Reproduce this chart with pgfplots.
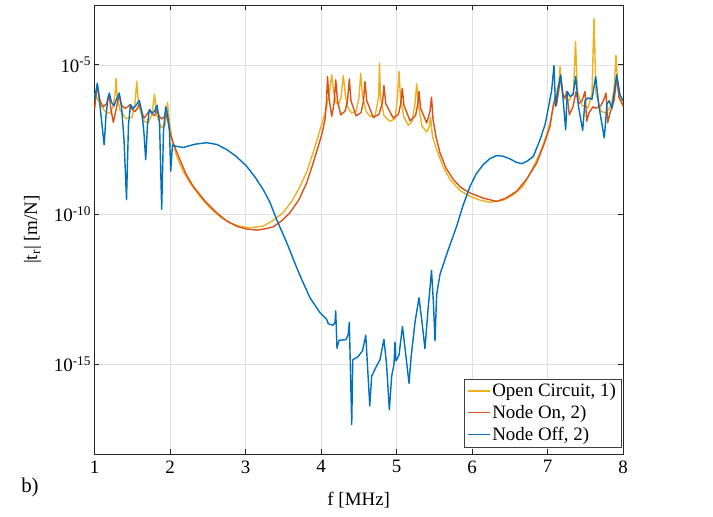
\documentclass[border=0pt]{standalone}
\usepackage{fontspec}
\setmainfont{Liberation Serif}
\usepackage{pgfplots}
\pgfplotsset{compat=1.18}
\definecolor{mYellow}{rgb}{0.929,0.694,0.125}
\definecolor{mOrange}{rgb}{0.850,0.325,0.098}
\definecolor{mBlue}{rgb}{0.000,0.447,0.741}
\definecolor{axgray}{rgb}{0.15,0.15,0.15}
\begin{document}
\begin{tikzpicture}
\begin{axis}[
  scale only axis, width=528.5bp, height=449bp,
  xmin=1, xmax=8, ymode=log, ymin=1e-18, ymax=1e-3,
  xtick={1,2,3,4,5,6,7,8},
  ytick={1e-15,1e-10,1e-5},
  yticklabels={10\textsuperscript{-15},10\textsuperscript{-10},10\textsuperscript{-5}},
  tick align=inside, major tick length=5bp,
  grid=major, major grid style={draw=black!12, line width=0.6bp},
  axis line style={draw=axgray, line width=0.8bp},
  every tick/.style={axgray, line width=0.8bp},
  tick label style={font=\fontsize{19}{22}\selectfont, text=black},
  xticklabel style={yshift=-3bp},
  /pgf/number format/assume math mode=true,
  xlabel={f [MHz]}, ylabel={|t\textsubscript{r}| [m/N]},
  label style={font=\fontsize{19}{22}\selectfont},
  xlabel style={at={(axis description cs:0.5,0)}, anchor=center, yshift=-46bp},
  ylabel style={at={(axis description cs:-0.117,0.5)}, anchor=center},
  legend style={at={(1,0)}, anchor=south east, xshift=-2bp, yshift=7bp,
    draw=black!75, fill=white, row sep=3bp,
    font=\fontsize{19}{22}\selectfont, inner xsep=3bp, inner ysep=3bp},
  legend cell align=left,
  legend image code/.code={%
    \draw[mark repeat=2,mark phase=2,#1]
      plot coordinates {(0bp,0bp) (11bp,0bp) (22bp,0bp)};},
  every axis plot/.append style={line width=1.4bp, line join=round},
]
% Open circuit
\addplot[mYellow] coordinates {
(1.000,1.12e-6) (1.073,5.01e-7) (1.139,2.82e-7) (1.205,2.40e-7) (1.245,3.98e-7)
(1.272,1.0e-6) (1.285,3.55e-6) (1.298,1.0e-6) (1.338,3.16e-7) (1.417,1.58e-7)
(1.497,1.78e-7) (1.536,5.01e-7) (1.559,2.82e-6) (1.583,5.01e-7) (1.642,1.41e-7)
(1.709,1.12e-7) (1.762,2.24e-7) (1.795,1.05e-6) (1.821,2.24e-7) (1.881,7.94e-8)
(1.934,1.0e-7) (1.967,5.62e-7) (1.993,1.12e-7) (2.026,3.55e-8) (2.089,8.71e-9)
(2.172,2.82e-9) (2.265,1.15e-9) (2.397,3.98e-10) (2.530,1.66e-10) (2.662,8.51e-11)
(2.795,5.25e-11) (2.927,3.98e-11) (3.060,3.63e-11) (3.232,4.07e-11) (3.364,6.31e-11)
(3.497,1.15e-10) (3.616,2.82e-10) (3.722,8.71e-10) (3.815,2.82e-9) (3.894,1.15e-8)
(3.960,3.98e-8) (4.013,1.12e-7) (4.066,3.16e-7) (4.106,1.0e-6) (4.142,4.68e-6)
(4.166,1.26e-6) (4.199,5.62e-7) (4.229,4.68e-7) (4.265,7.94e-7) (4.295,4.37e-6)
(4.325,8.91e-7) (4.358,3.55e-7) (4.407,2.45e-7) (4.464,2.82e-7) (4.503,7.94e-7)
(4.526,5.25e-6) (4.550,8.91e-7) (4.596,2.82e-7) (4.649,1.91e-7) (4.715,2.0e-7)
(4.762,7.94e-7) (4.775,1.15e-5) (4.788,7.94e-7) (4.834,2.0e-7) (4.914,1.29e-7)
(4.980,1.58e-7) (5.013,7.94e-7) (5.033,6.17e-6) (5.053,7.94e-7) (5.099,1.78e-7)
(5.156,9.55e-8) (5.205,1.26e-7) (5.245,5.01e-7) (5.268,2.34e-6) (5.291,4.47e-7)
(5.338,8.91e-8) (5.400,5.75e-8) (5.430,7.94e-8) (5.450,1.78e-7) (5.477,3.98e-8)
(5.532,1.48e-8) (5.616,3.98e-9) (5.709,1.48e-9) (5.841,6.31e-10) (5.974,4.07e-10)
(6.106,3.02e-10) (6.238,2.57e-10) (6.411,3.02e-10) (6.543,4.47e-10) (6.675,8.71e-10)
(6.795,3.16e-9) (6.901,1.15e-8) (6.980,3.98e-8) (7.033,1.15e-7) (7.086,5.01e-7)
(7.126,1.26e-6) (7.152,2.82e-6) (7.166,8.71e-6) (7.185,1.78e-6) (7.219,7.94e-7)
(7.285,6.31e-7) (7.344,1.26e-6) (7.371,6.03e-5) (7.397,1.26e-6) (7.457,4.47e-7)
(7.536,3.63e-7) (7.589,1.12e-6) (7.616,3.63e-4) (7.642,1.12e-6) (7.709,2.82e-7)
(7.775,2.45e-7) (7.841,4.47e-7) (7.881,1.41e-6) (7.907,2.14e-5) (7.934,1.41e-6)
(8.000,3.98e-7)
};
\addlegendentry{Open Circuit, 1)}
% Node on
\addplot[mOrange] coordinates {
(1.000,3.16e-7) (1.037,2.14e-6) (1.073,6.31e-7) (1.117,3.98e-7) (1.159,5.01e-7)
(1.192,1.0e-6) (1.219,3.16e-7) (1.249,1.20e-7) (1.285,3.16e-7) (1.325,1.0e-6)
(1.358,4.47e-7) (1.404,3.55e-7) (1.444,3.98e-7) (1.470,4.68e-7) (1.503,3.16e-7)
(1.536,2.75e-7) (1.570,3.55e-7) (1.593,5.01e-7) (1.623,2.82e-7) (1.656,1.66e-7)
(1.695,2.24e-7) (1.735,3.16e-7) (1.768,2.24e-7) (1.795,2.0e-7) (1.824,3.16e-7)
(1.854,2.0e-7) (1.890,1.55e-7) (1.921,1.78e-7) (1.943,2.51e-7) (1.974,1.26e-7)
(2.000,5.37e-8) (2.040,2.51e-8) (2.132,6.76e-9) (2.212,2.24e-9) (2.308,8.71e-10)
(2.464,2.82e-10) (2.618,1.15e-10) (2.742,6.31e-11) (2.883,4.07e-11) (3.007,3.31e-11)
(3.148,3.02e-11) (3.258,3.31e-11) (3.368,3.89e-11) (3.483,6.31e-11) (3.589,1.15e-10)
(3.709,3.16e-10) (3.810,1.15e-9) (3.881,3.98e-9) (3.964,1.91e-8) (4.013,5.01e-8)
(4.053,1.48e-7) (4.073,6.31e-7) (4.086,4.07e-6) (4.106,7.94e-7) (4.142,1.91e-7)
(4.172,5.01e-7) (4.195,3.16e-6) (4.219,6.31e-7) (4.261,2.14e-7) (4.318,2.82e-7)
(4.351,6.31e-7) (4.375,3.39e-6) (4.397,6.31e-7) (4.464,2.0e-7) (4.530,2.51e-7)
(4.563,6.31e-7) (4.583,2.75e-6) (4.606,6.31e-7) (4.693,1.74e-7) (4.768,2.24e-7)
(4.815,5.62e-7) (4.834,2.04e-6) (4.858,5.01e-7) (4.957,1.66e-7) (5.026,2.24e-7)
(5.056,5.01e-7) (5.076,1.66e-6) (5.099,4.47e-7) (5.179,1.35e-7) (5.252,2.0e-7)
(5.279,4.47e-7) (5.298,1.29e-6) (5.319,3.55e-7) (5.400,1.15e-7) (5.444,2.82e-7)
(5.464,8.32e-7) (5.483,1.58e-7) (5.523,3.98e-8) (5.576,1.15e-8) (5.656,3.55e-9)
(5.752,1.48e-9) (5.854,7.94e-10) (5.974,5.25e-10) (6.146,3.55e-10) (6.327,2.75e-10)
(6.450,3.55e-10) (6.592,6.03e-10) (6.728,1.58e-9) (6.857,5.25e-9) (6.954,2.24e-8)
(7.033,8.71e-8) (7.073,3.98e-7) (7.099,7.94e-7) (7.119,4.47e-7) (7.146,1.26e-6)
(7.175,4.07e-6) (7.205,1.0e-6) (7.232,7.76e-7) (7.254,1.29e-6) (7.289,2.14e-7)
(7.338,3.98e-7) (7.377,1.26e-6) (7.411,5.01e-7) (7.457,6.31e-7) (7.497,1.29e-6)
(7.519,1.29e-7) (7.550,2.51e-7) (7.603,3.98e-7) (7.642,3.55e-7) (7.709,4.47e-7)
(7.748,7.08e-7) (7.775,1.15e-6) (7.797,1.15e-7) (7.828,2.51e-7) (7.881,6.31e-7)
(7.921,4.07e-6) (7.947,7.94e-7) (8.000,4.47e-7)
};
\addlegendentry{Node On, 2)}
% Node off
\addplot[mBlue] coordinates {
(1.000,6.76e-7) (1.037,2.45e-6) (1.066,6.31e-7) (1.099,1.0e-7) (1.128,2.14e-8)
(1.152,2.0e-7) (1.179,7.94e-7) (1.196,1.15e-6) (1.225,5.62e-7) (1.258,4.27e-7)
(1.291,7.08e-7) (1.328,1.15e-6) (1.358,3.98e-7) (1.391,3.16e-8) (1.424,3.16e-10)
(1.450,1.0e-7) (1.477,4.68e-7) (1.510,3.55e-7) (1.550,4.47e-7) (1.593,6.46e-7)
(1.629,2.51e-7) (1.656,5.01e-8) (1.678,6.76e-9) (1.702,1.0e-7) (1.726,3.16e-7)
(1.762,2.40e-7) (1.795,2.82e-7) (1.828,4.47e-7) (1.861,1.26e-7) (1.890,1.48e-10)
(1.914,6.31e-8) (1.943,3.98e-7) (1.967,2.24e-7) (1.993,6.31e-8) (2.009,2.75e-9)
(2.033,2.09e-8) (2.079,1.91e-8) (2.176,1.74e-8) (2.331,2.24e-8) (2.486,2.51e-8)
(2.623,2.19e-8) (2.751,1.48e-8) (2.874,8.91e-9) (3.016,4.07e-9) (3.126,1.78e-9)
(3.236,6.76e-10) (3.325,2.51e-10) (3.413,6.76e-11) (3.546,1.15e-11) (3.679,1.66e-12)
(3.745,6.76e-13) (3.854,1.66e-13) (3.987,5.25e-14) (4.075,3.16e-14) (4.097,2.24e-14)
(4.162,2.0e-14) (4.185,2.51e-14) (4.195,6.03e-14) (4.212,3.39e-15) (4.238,6.31e-15)
(4.331,6.61e-15) (4.361,1.0e-14) (4.375,2.51e-14) (4.407,9.55e-18) (4.421,1.41e-15)
(4.490,1.78e-15) (4.550,2.82e-15) (4.593,9.33e-15) (4.646,4.07e-17) (4.671,3.98e-16)
(4.728,7.94e-16) (4.781,1.41e-15) (4.834,6.76e-15) (4.868,1.0e-15) (4.905,3.02e-17)
(4.936,3.98e-16) (4.967,1.0e-15) (4.980,5.50e-15) (4.993,1.29e-15) (5.033,2.0e-15)
(5.079,1.82e-14) (5.119,2.51e-15) (5.166,2.29e-16) (5.192,1.58e-15) (5.245,2.51e-14)
(5.298,1.66e-13) (5.338,2.51e-14) (5.377,3.31e-15) (5.417,6.31e-14) (5.464,1.38e-12)
(5.490,1.0e-13) (5.510,6.03e-15) (5.532,2.14e-13) (5.576,1.0e-12) (5.629,2.51e-12)
(5.682,6.31e-12) (5.797,4.07e-11) (5.881,2.0e-10) (5.974,8.71e-10) (6.053,2.24e-9)
(6.150,4.68e-9) (6.238,7.41e-9) (6.327,9.33e-9) (6.411,8.91e-9) (6.503,7.24e-9)
(6.583,5.62e-9) (6.658,5.01e-9) (6.728,6.03e-9) (6.812,8.71e-9) (6.901,3.16e-8)
(6.967,1.0e-7) (7.007,3.16e-7) (7.055,1.41e-6) (7.086,9.55e-6) (7.106,4.07e-7)
(7.139,1.58e-6) (7.175,4.68e-6) (7.205,7.94e-7) (7.241,6.76e-8) (7.262,1.29e-6)
(7.298,8.91e-7) (7.338,1.0e-6) (7.373,4.07e-6) (7.411,3.98e-7) (7.466,6.46e-8)
(7.497,6.31e-7) (7.536,7.94e-7) (7.589,7.08e-7) (7.638,4.07e-6) (7.682,3.98e-7)
(7.752,3.63e-8) (7.788,5.01e-7) (7.815,6.31e-7) (7.854,3.55e-7) (7.916,4.68e-6)
(7.960,1.0e-6) (8.000,6.31e-7)
};
\addlegendentry{Node Off, 2)}
\end{axis}
\node[font=\fontsize{21}{24}\selectfont] at ([shift={(-64.5bp,-33bp)}]current axis.south west) {b)};
\pgfresetboundingbox
\path[use as bounding box] ([shift={(-94.5bp,-63bp)}]current axis.south west) rectangle ([shift={(90bp,5bp)}]current axis.north east);
\end{tikzpicture}
\end{document}
